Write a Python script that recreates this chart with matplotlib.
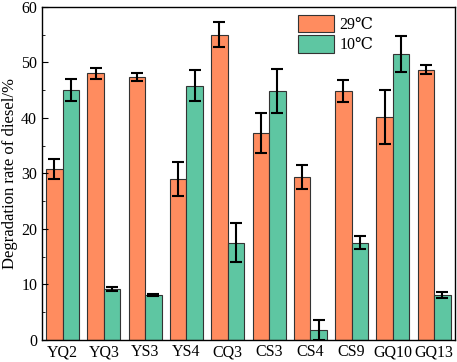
import matplotlib
matplotlib.use("Agg")
import matplotlib.pyplot as plt
import numpy as np

plt.rcParams['font.family'] = ['Liberation Serif', 'DejaVu Serif']

strains = ["YQ2", "YQ3", "YS3", "YS4", "CQ3", "CS3", "CS4", "CS9", "GQ10", "GQ13"]
rate_29 = [30.8, 48.0, 47.4, 29.0, 55.0, 37.3, 29.3, 44.8, 40.2, 48.7]
err_29 = [1.8, 1.0, 0.7, 3.0, 2.2, 3.6, 2.2, 2.0, 4.9, 0.8]
rate_10 = [45.0, 9.2, 8.1, 45.8, 17.5, 44.8, 1.7, 17.5, 51.5, 8.1]
err_10 = [2.0, 0.3, 0.2, 2.8, 3.5, 4.0, 1.8, 1.2, 3.2, 0.5]

fig = plt.figure(figsize=(4.57, 3.62), dpi=100)
ax = fig.add_axes([0.092, 0.061, 0.903, 0.92])

x = np.arange(len(strains))
w = 0.4
ekw = dict(elinewidth=1.5, capthick=1.5)
ax.bar(x - w / 2, rate_29, w, yerr=err_29, capsize=4, color='#FF8C5F', edgecolor='#333333',
       linewidth=0.8, error_kw=ekw, label='29\u2103')
ax.bar(x + w / 2, rate_10, w, yerr=err_10, capsize=4, color='#5EC6A2', edgecolor='#333333',
       linewidth=0.8, error_kw=ekw, label='10\u2103')

ax.set_xlim(-0.5, 9.5)
ax.set_ylim(0, 60)
ax.set_xticks(x)
ax.set_xticklabels(strains, fontsize=11.5)
ax.tick_params(axis='x', length=0, pad=3)
ax.set_yticks(range(0, 61, 10))
ax.set_yticks(range(5, 60, 10), minor=True)
ax.tick_params(axis='y', which='major', direction='in', length=4, labelsize=11.5)
ax.tick_params(axis='y', which='minor', direction='in', length=2)
ax.set_ylabel('Degradation rate of diesel/%', fontsize=12, labelpad=2)
for s in ax.spines.values():
    s.set_linewidth(1.0)

ax.legend(loc='upper left', bbox_to_anchor=(0.6, 1.0), frameon=False, fontsize=11.5,
          handlelength=2.3, handleheight=1.3, labelspacing=0.15, handletextpad=0.3,
          borderpad=0.2, borderaxespad=0.3)

fig.savefig('out.png', dpi=100)
